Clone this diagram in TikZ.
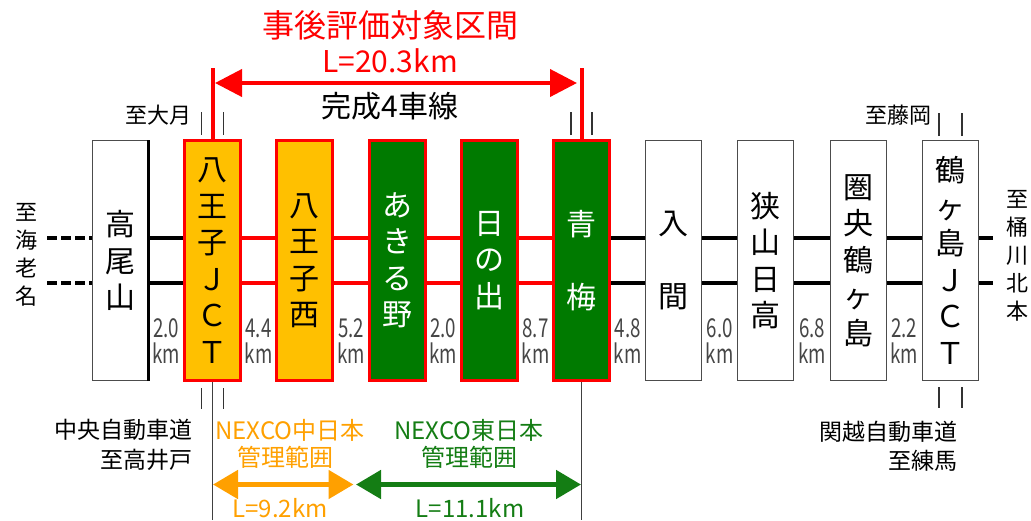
\documentclass[tikz,border=0pt]{standalone}
\usepackage{fontspec}
\setmainfont{Noto Sans CJK JP}
\usetikzlibrary{arrows.meta}
\definecolor{jred}{RGB}{255,0,0}
\definecolor{jorange}{RGB}{255,192,0}
\definecolor{jorangetxt}{RGB}{255,160,0}
\definecolor{jgreen}{RGB}{0,122,0}
\definecolor{jgreentxt}{RGB}{20,125,20}
\definecolor{distgray}{RGB}{70,70,70}
\newcommand\distlbl[1]{\scalebox{0.72}[1]{#1}\\\scalebox{0.72}[1]{km}}
\begin{document}
\begin{tikzpicture}[x=1pt,y=-1pt,
  box/.style={minimum width=56pt, minimum height=240pt, inner sep=0pt, align=center, font=\fontsize{30}{36.5}\selectfont},
  whitebox/.style={box, draw=black!70, line width=1pt, fill=white},
  orangebox/.style={box, draw=jred, line width=3.5pt, fill=jorange},
  greenbox/.style={box, draw=jred, line width=3pt, fill=jgreen, text=white},
  road/.style={line width=3.5pt, black},
  redroad/.style={line width=3.5pt, jred},
  dashroad/.style={line width=3.5pt, black, dash pattern=on 10pt off 4pt},
  tickline/.style={line width=1.3pt, black!80},
  downline/.style={line width=1.5pt, black!75},
  redline/.style={line width=4pt, jred},
  redarrow/.style={line width=4pt, jred, {Triangle[length=27pt,width=27pt]}-{Triangle[length=27pt,width=27pt]}},
  orarrow/.style={line width=5pt, jorangetxt, {Triangle[length=25pt,width=28pt]}-{Triangle[length=25pt,width=28pt]}},
  grarrow/.style={line width=5pt, jgreentxt, {Triangle[length=25pt,width=28pt]}-{Triangle[length=25pt,width=28pt]}},
  dist/.style={inner sep=0pt, align=center, text=distgray, font=\fontsize{26}{26}\selectfont},
  lbl/.style={inner sep=0pt, font=\fontsize{22}{28}\selectfont, align=center},
  sublbl/.style={inner sep=0pt, font=\fontsize{23}{28}\selectfont},
  nexco/.style={inner sep=0pt, font=\fontsize{24}{28}\selectfont}
]
\useasboundingbox (0,0) rectangle (1031,520);

% boxes
\node[whitebox]  (b0) at (120,260.5) {高\\尾\\山};
\node[orangebox] (b1) at (212.5,260.5) {八\\王\\子\\Ｊ\\Ｃ\\Ｔ};
\node[orangebox] (b2) at (304.7,260.5) {八\\王\\子\\西};
\node[greenbox]  (b3) at (397.2,260.5) {あ\\き\\る\\野};
\node[greenbox]  (b4) at (489.5,260.5) {日\\の\\出};
\node[greenbox]  (b5) at (581.5,260.5) {青\\[36.5pt]梅};
\node[whitebox]  (b6) at (673.7,260.5) {入\\[36.5pt]間};
\node[whitebox]  (b7) at (765.9,260.5) {狭\\山\\日\\高};
\node[whitebox]  (b8) at (858.1,260.5) {圏\\央\\鶴\\ヶ\\島};
\node[whitebox]  (b9) at (950.4,260.5) {鶴\\ヶ\\島\\Ｊ\\Ｃ\\Ｔ};

% thick east edge of Takao
\draw[line width=2.5pt] (b0.north east) -- (b0.south east);

% roads
\coordinate (lEnd) at (47,260.5);
\coordinate (rEnd) at (993,260.5);
\foreach \s in {22.5,-22.5}{
  \draw[dashroad] ([yshift=\s pt]lEnd) -- ([yshift=\s pt]b0.west);
  \draw[road] ([yshift=\s pt]b0.east) -- ([yshift=\s pt]b1.west);
  \draw[redroad] ([yshift=\s pt]b1.east) -- ([yshift=\s pt]b2.west);
  \draw[redroad] ([yshift=\s pt]b2.east) -- ([yshift=\s pt]b3.west);
  \draw[redroad] ([yshift=\s pt]b3.east) -- ([yshift=\s pt]b4.west);
  \draw[redroad] ([yshift=\s pt]b4.east) -- ([yshift=\s pt]b5.west);
  \draw[road] ([yshift=\s pt]b5.east) -- ([yshift=\s pt]b6.west);
  \draw[road] ([yshift=\s pt]b6.east) -- ([yshift=\s pt]b7.west);
  \draw[road] ([yshift=\s pt]b7.east) -- ([yshift=\s pt]b8.west);
  \draw[road] ([yshift=\s pt]b8.east) -- ([yshift=\s pt]b9.west);
  \draw[road] ([yshift=\s pt]b9.east) -- ([yshift=\s pt]rEnd);
}

% ticks
\foreach \b/\d in {b1/11, b5/10.5, b9/11.5}{
  \foreach \sg in {-1,1}{
    \draw[tickline] ([xshift=\sg*\d pt, yshift=4pt]\b.north) -- ([xshift=\sg*\d pt, yshift=27pt]\b.north);
  }
}
\foreach \b/\d in {b1/11, b9/11.5}{
  \foreach \sg in {-1,1}{
    \draw[tickline] ([xshift=\sg*\d pt, yshift=-6pt]\b.south) -- ([xshift=\sg*\d pt, yshift=-27pt]\b.south);
  }
}

% red top lines and arrow
\coordinate (rt1) at (212.5,68);
\coordinate (rt2) at (581.5,68);
\draw[redline] (rt1) -- (b1.north);
\draw[redline] (rt2) -- (b5.north);
\coordinate (ra1) at (212.5,83);
\coordinate (ra2) at (581.5,83);
\draw[redarrow, shorten <=2.5pt, shorten >=4.5pt] (ra1) -- (ra2);

% downward lines
\coordinate (bd1) at (212.5,520);
\coordinate (bd2) at (581.5,520);
\draw[downline] (b1.south) -- (bd1);
\draw[downline] (b5.south) -- (bd2);

% management arrows
\coordinate (oa1) at (212.5,484.5);
\coordinate (oa2) at (355,484.5);
\coordinate (ga2) at (581.5,484.5);
\draw[orarrow, shorten <=0.5pt, shorten >=1.5pt] (oa1) -- (oa2);
\draw[grarrow, shorten <=1pt, shorten >=0.5pt] (oa2) -- (ga2);

% titles
\node[inner sep=0pt, text=jred, font=\fontsize{32}{32}\selectfont] (t1) at (390,25) {事後評価対象区間};
\node[inner sep=0pt, text=jred, font=\fontsize{30}{30}\selectfont] (t2) at (390,61) {L=20.3km};
\node[inner sep=0pt, font=\fontsize{30}{30}\selectfont] (t3) at (390,106) {完成4車線};

% direction labels
\node[lbl] (to1) at (158,115) {至大月};
\node[lbl] (to2) at (898,115) {至藤岡};
\node[lbl] (to3) at (27,255) {至\\海\\老\\名};
\node[lbl] (to4) at (1017,256) {至\\桶\\川\\北\\本};
\node[sublbl, anchor=east] (c1) at (193,430) {中央自動車道};
\node[sublbl, anchor=east] (c2) at (193,460) {至高井戸};
\node[sublbl, anchor=east] (k1) at (958,432) {関越自動車道};
\node[sublbl, anchor=east] (k2) at (958,461) {至練馬};

% nexco labels
\node[nexco, text=jorangetxt] (n1) at (290,430) {NEXCO中日本};
\node[nexco, text=jorangetxt] (n2) at (285,457) {管理範囲};
\node[nexco, text=jorangetxt] (n3) at (280,508) {L=9.2km};
\node[nexco, text=jgreentxt] (n4) at (469,430) {NEXCO東日本};
\node[nexco, text=jgreentxt] (n5) at (469,457) {管理範囲};
\node[nexco, text=jgreentxt] (n6) at (470,508) {L=11.1km};

% distances
\node[dist] (d1) at (166,341) {\distlbl{2.0}};
\node[dist] (d2) at (258.5,341) {\distlbl{4.4}};
\node[dist] (d3) at (351,341) {\distlbl{5.2}};
\node[dist] (d4) at (443.3,341) {\distlbl{2.0}};
\node[dist] (d5) at (535.5,341) {\distlbl{8.7}};
\node[dist] (d6) at (627.6,341) {\distlbl{4.8}};
\node[dist] (d7) at (719.8,341) {\distlbl{6.0}};
\node[dist] (d8) at (812,341) {\distlbl{6.8}};
\node[dist] (d9) at (904.2,341) {\distlbl{2.2}};
\end{tikzpicture}
\end{document}
